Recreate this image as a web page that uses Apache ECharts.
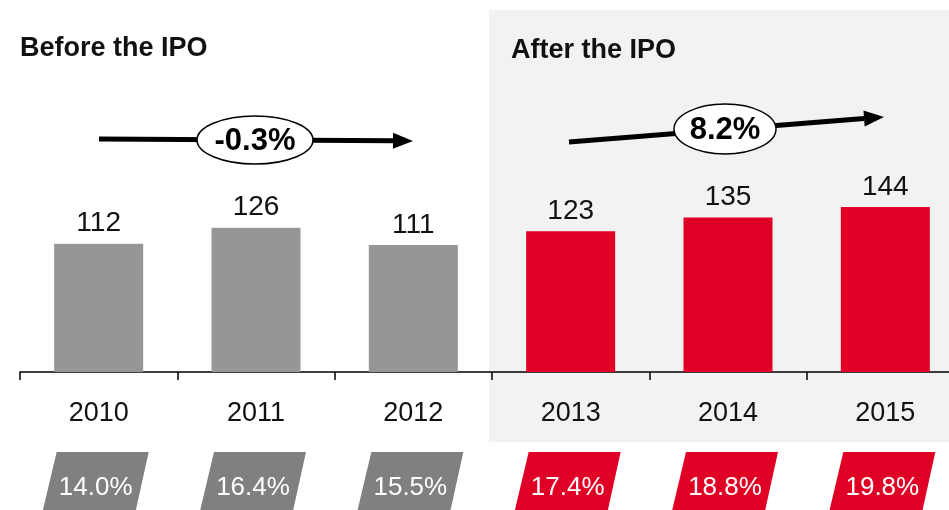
<!DOCTYPE html>
<html>
<head>
<meta charset="utf-8">
<script src="https://cdn.jsdelivr.net/npm/echarts@6/dist/echarts.min.js"></script>
<style>
  html, body { margin: 0; padding: 0; background: #fff; }
  #main { width: 949px; height: 510px; }
</style>
</head>
<body>
<div id="main"></div>
<script>
var years = ['2010', '2011', '2012', '2013', '2014', '2015'];
var revenue = [112, 126, 111, 123, 135, 144];
var margins = ['14.0%', '16.4%', '15.5%', '17.4%', '18.8%', '19.8%'];
var afterIpo = [false, false, false, true, true, true];
var cagrBefore = '-0.3%';
var cagrAfter = '8.2%';

var GRAY = '#969696';
var GRAY_TAG = '#808080';
var RED = '#e00025';
var FONT = 'Liberation Sans, Arial, sans-serif';

var myChart = echarts.init(document.getElementById('main'));

var option = {
    animation: false,
    grid: { left: 20, right: -15, top: 143, bottom: 138, outerBoundsMode: 'none', containLabel: false },
    xAxis: {
        type: 'category',
        data: years,
        axisLine: { lineStyle: { color: '#000', width: 1.5 } },
        axisTick: { show: true, length: 8, lineStyle: { color: '#000', width: 1.5 } },
        axisLabel: { color: '#111', fontSize: 27, fontFamily: FONT, margin: 28 }
    },
    yAxis: {
        type: 'value', min: 0, max: 200,
        show: false,
        splitLine: { show: false }
    },
    series: [{
        type: 'bar',
        barWidth: 89,
        data: revenue.map(function (v, i) {
            return { value: v, itemStyle: { color: afterIpo[i] ? RED : GRAY } };
        }),
        label: {
            show: true, position: 'top', distance: 6,
            color: '#111', fontSize: 28, fontFamily: FONT
        }
    }]
};
myChart.setOption(option);

// annotations: shaded band, titles, CAGR arrows, margin tags
function arrow(x1, y1, x2, y2) {
    var a = Math.atan2(y2 - y1, x2 - x1);
    var L = 20, W = 8;
    var bx = x2 - L * Math.cos(a), by = y2 - L * Math.sin(a);
    return [{
        type: 'line', z: 5,
        shape: { x1: x1, y1: y1, x2: bx, y2: by },
        style: { stroke: '#000', lineWidth: 5 }
    }, {
        type: 'polygon', z: 5,
        shape: { points: [[x2, y2],
            [bx + W * Math.sin(a), by - W * Math.cos(a)],
            [bx - W * Math.sin(a), by + W * Math.cos(a)]] },
        style: { fill: '#000' }
    }];
}
function bubble(cx, cy, rx, ry, txt) {
    return [{
        type: 'ellipse', z: 6,
        shape: { cx: cx, cy: cy, rx: rx, ry: ry },
        style: { fill: '#fff', stroke: '#000', lineWidth: 1.5 }
    }, {
        type: 'text', z: 7, x: cx, y: cy + 1,
        style: { text: txt, fill: '#000', font: 'bold 31px ' + FONT, align: 'center', verticalAlign: 'middle' }
    }];
}

var g = [];
g.push({ type: 'rect', z: -10, shape: { x: 489, y: 10, width: 470, height: 432 }, style: { fill: '#f2f2f2' } });
g.push({ type: 'text', x: 20, y: 49, style: { text: 'Before the IPO', fill: '#111', font: 'bold 27px ' + FONT, verticalAlign: 'middle' } });
g.push({ type: 'text', x: 511, y: 51, style: { text: 'After the IPO', fill: '#111', font: 'bold 27px ' + FONT, verticalAlign: 'middle' } });
g = g.concat(arrow(99, 139, 413, 141), bubble(255, 140, 58, 24, cagrBefore));
g = g.concat(arrow(569, 142, 884, 117), bubble(725, 129, 51, 25, cagrAfter));

years.forEach(function (y, i) {
    var cx = myChart.convertToPixel({ xAxisIndex: 0 }, y);
    g.push({
        type: 'polygon',
        shape: { points: [[cx - 42, 452], [cx + 50, 452], [cx + 37, 511], [cx - 56, 511]] },
        style: { fill: afterIpo[i] ? RED : GRAY_TAG }
    });
    g.push({
        type: 'text', x: cx - 3, y: 488,
        style: { text: margins[i], fill: '#fff', font: '26px ' + FONT, align: 'center', verticalAlign: 'middle' }
    });
});

myChart.setOption({ graphic: { elements: g } });
</script>
</body>
</html>
